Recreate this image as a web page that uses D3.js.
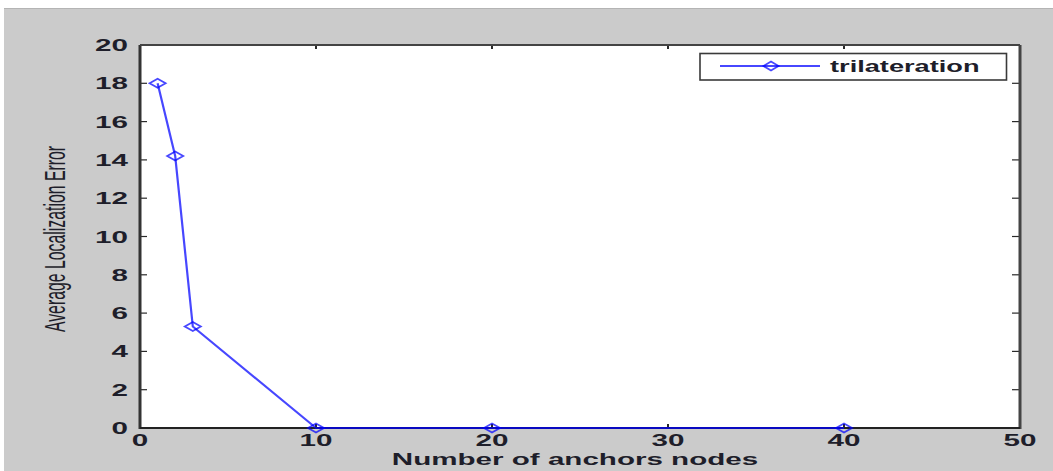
<!DOCTYPE html>
<html>
<head>
<meta charset="utf-8">
<script src="https://cdn.jsdelivr.net/npm/d3@7"></script>
<style>
  html, body { margin: 0; padding: 0; background: #ffffff; }
  svg { display: block; }
  text { font-family: "Liberation Sans", Arial, sans-serif; fill: #1e1e2a; }
</style>
</head>
<body>
<svg id="chart" width="1053" height="471"></svg>
<script>
// Anchor counts and the resulting mean localization error
const anchors = [1, 2, 3, 10, 20, 40];
const avgError = [18, 14.2, 5.3, 0, 0, 0];
const seriesName = "trilateration";
const xTicks = [0, 10, 20, 30, 40, 50];
const yTicks = [0, 2, 4, 6, 8, 10, 12, 14, 16, 18, 20];
const xTitle = "Number of anchors nodes";
const yTitle = "Average Localization Error";

const W = 1053, H = 471;
const plot = { left: 140, right: 1020, top: 45, bottom: 428 };

const svg = d3.select("#chart");

// figure background
svg.append("rect").attr("x", 4).attr("y", 8).attr("width", W - 4).attr("height", H - 8)
  .attr("fill", "#cbcbcb");
svg.append("line").attr("x1", 4).attr("x2", W).attr("y1", 8.5).attr("y2", 8.5)
  .attr("stroke", "#b4b4b4").attr("stroke-width", 1);

const x = d3.scaleLinear().domain([0, 50]).range([plot.left, plot.right]);
const y = d3.scaleLinear().domain([0, 20]).range([plot.bottom, plot.top]);

// axes area
svg.append("rect")
  .attr("x", plot.left).attr("y", plot.top)
  .attr("width", plot.right - plot.left).attr("height", plot.bottom - plot.top)
  .attr("fill", "#ffffff");

// inward ticks on all four sides
const tickCol = "#2a2a2a";
const g = svg.append("g");
g.selectAll(".yt").data(yTicks).join("line")
  .attr("x1", plot.left).attr("x2", plot.left + 7)
  .attr("y1", d => y(d)).attr("y2", d => y(d))
  .attr("stroke", tickCol).attr("stroke-width", 1.2);
g.selectAll(".yt2").data(yTicks).join("line")
  .attr("x1", plot.right).attr("x2", plot.right - 8)
  .attr("y1", d => y(d)).attr("y2", d => y(d))
  .attr("stroke", tickCol).attr("stroke-width", 1.2);
g.selectAll(".xt").data(xTicks).join("line")
  .attr("x1", d => x(d)).attr("x2", d => x(d))
  .attr("y1", plot.bottom).attr("y2", plot.bottom - 4)
  .attr("stroke", tickCol).attr("stroke-width", 2);
g.selectAll(".xt2").data(xTicks).join("line")
  .attr("x1", d => x(d)).attr("x2", d => x(d))
  .attr("y1", plot.top).attr("y2", plot.top + 4)
  .attr("stroke", tickCol).attr("stroke-width", 2);

// axes box: vertical edges heavier than horizontal ones
svg.append("line").attr("x1", plot.left).attr("x2", plot.left)
  .attr("y1", plot.top).attr("y2", plot.bottom + 1)
  .attr("stroke", "#333", ).attr("stroke-width", 3);
svg.append("line").attr("x1", plot.right).attr("x2", plot.right)
  .attr("y1", plot.top).attr("y2", plot.bottom + 1)
  .attr("stroke", "#444").attr("stroke-width", 3);
svg.append("line").attr("x1", plot.left).attr("x2", plot.right)
  .attr("y1", plot.top).attr("y2", plot.top)
  .attr("stroke", "#444").attr("stroke-width", 2);
svg.append("line").attr("x1", plot.left).attr("x2", plot.right)
  .attr("y1", plot.bottom).attr("y2", plot.bottom)
  .attr("stroke", "#222").attr("stroke-width", 2);

// wide, bold tick labels
function wideText(sel, sx) {
  sel.attr("transform", function () {
    const tx = +this.getAttribute("data-x"), ty = +this.getAttribute("data-y");
    return `translate(${tx},${ty}) scale(${sx},1)`;
  });
}
svg.selectAll(".ylab").data(yTicks).join("text")
  .attr("data-x", plot.left - 12).attr("data-y", d => y(d) + 6)
  .attr("text-anchor", "end").attr("font-size", 16).attr("font-weight", "bold")
  .text(d => d).call(wideText, 1.85);
svg.selectAll(".xlab").data(xTicks).join("text")
  .attr("data-x", d => x(d)).attr("data-y", plot.bottom + 18)
  .attr("text-anchor", "middle").attr("font-size", 16).attr("font-weight", "bold")
  .text(d => d).call(wideText, 1.85);

// axis titles
svg.append("text")
  .attr("transform", `translate(575,465) scale(1.74,1)`)
  .attr("text-anchor", "middle").attr("font-size", 17).attr("font-weight", "bold")
  .text(xTitle);
svg.append("text")
  .attr("transform", `translate(65,239) rotate(-90) scale(0.99,1.9)`)
  .attr("text-anchor", "middle").attr("font-size", 16)
  .text(yTitle);

// data line and diamond markers
const blue = "#0000ff";
const pts = anchors.map((a, i) => [a, avgError[i]]);
svg.append("path")
  .datum(pts)
  .attr("d", d3.line().x(d => x(d[0])).y(d => y(d[1])))
  .attr("fill", "none").attr("stroke", blue).attr("stroke-opacity", 0.72)
  .attr("stroke-width", 2.2).attr("stroke-linejoin", "round");

function diamond(w, h) {
  return `M${-w / 2},0L0,${-h / 2}L${w / 2},0L0,${h / 2}Z`;
}
svg.selectAll(".mk").data(pts).join("path")
  .attr("transform", d => `translate(${x(d[0])},${y(d[1])})`)
  .attr("d", diamond(16, 9))
  .attr("fill", "none").attr("stroke", blue).attr("stroke-opacity", 0.72)
  .attr("stroke-width", 1.8);

// legend
const lg = svg.append("g");
lg.append("rect").attr("x", 700).attr("y", 53.5).attr("width", 306.5).attr("height", 26.5)
  .attr("fill", "#ffffff").attr("stroke", "#3a3a3a").attr("stroke-width", 1.6);
lg.append("line").attr("x1", 720).attr("x2", 820).attr("y1", 66).attr("y2", 66)
  .attr("stroke", blue).attr("stroke-opacity", 0.72).attr("stroke-width", 2);
lg.append("path").attr("transform", "translate(771,66)").attr("d", diamond(15, 9))
  .attr("fill", "none").attr("stroke", blue).attr("stroke-opacity", 0.72).attr("stroke-width", 1.8);
lg.append("text")
  .attr("transform", "translate(830,72) scale(1.7,1)")
  .attr("font-size", 16).attr("font-weight", "bold")
  .text(seriesName);
</script>
</body>
</html>
